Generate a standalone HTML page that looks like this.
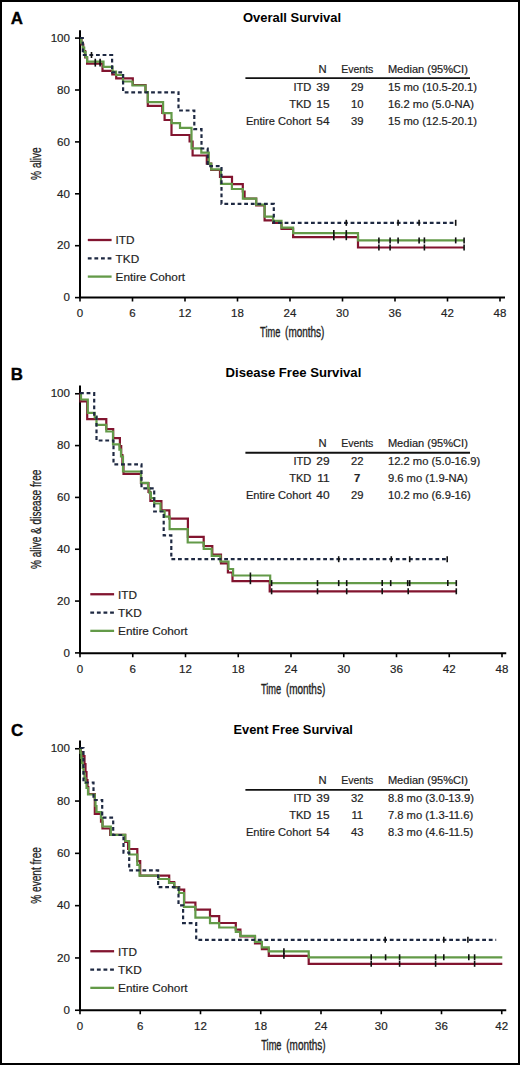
<!DOCTYPE html><html><head><meta charset="utf-8"><style>html,body{margin:0;padding:0;background:#fff;overflow:hidden;}svg{display:block;}</style></head><body>
<svg width="520" height="1065" viewBox="0 0 520 1065" font-family='"Liberation Sans", sans-serif'>
<rect x="0" y="0" width="520" height="1065" fill="#fff"/>
<rect x="1" y="1" width="518" height="1063" fill="none" stroke="#000" stroke-width="2"/>
<g><text x="10.8" y="23.8" font-size="16.9" font-weight="bold" fill="#000" stroke="#000" stroke-width="0.35">A</text><text x="243" y="21.7" font-size="13.4" font-weight="bold" fill="#000" textLength="98" lengthAdjust="spacingAndGlyphs">Overall Survival</text><path d="M80 30.3V297.5H505" fill="none" stroke="#000" stroke-width="2"/><path d="M75 297.6H80" stroke="#000" stroke-width="1.6"/><text x="70" y="301.3" font-size="11.6" fill="#222" stroke="#222" stroke-width="0.18" text-anchor="end">0</text><path d="M75 245.7H80" stroke="#000" stroke-width="1.6"/><text x="70" y="249.4" font-size="11.6" fill="#222" stroke="#222" stroke-width="0.18" text-anchor="end">20</text><path d="M75 193.8H80" stroke="#000" stroke-width="1.6"/><text x="70" y="197.5" font-size="11.6" fill="#222" stroke="#222" stroke-width="0.18" text-anchor="end">40</text><path d="M75 141.9H80" stroke="#000" stroke-width="1.6"/><text x="70" y="145.6" font-size="11.6" fill="#222" stroke="#222" stroke-width="0.18" text-anchor="end">60</text><path d="M75 90H80" stroke="#000" stroke-width="1.6"/><text x="70" y="93.7" font-size="11.6" fill="#222" stroke="#222" stroke-width="0.18" text-anchor="end">80</text><path d="M75 38.1H80" stroke="#000" stroke-width="1.6"/><text x="70" y="41.8" font-size="11.6" fill="#222" stroke="#222" stroke-width="0.18" text-anchor="end">100</text><path d="M80 297.5V301.5" stroke="#000" stroke-width="1.6"/><text x="80" y="317.1" font-size="11.5" fill="#222" stroke="#222" stroke-width="0.18" text-anchor="middle">0</text><path d="M132.5 297.5V301.5" stroke="#000" stroke-width="1.6"/><text x="132.5" y="317.1" font-size="11.5" fill="#222" stroke="#222" stroke-width="0.18" text-anchor="middle">6</text><path d="M185 297.5V301.5" stroke="#000" stroke-width="1.6"/><text x="185" y="317.1" font-size="11.5" fill="#222" stroke="#222" stroke-width="0.18" text-anchor="middle">12</text><path d="M237.5 297.5V301.5" stroke="#000" stroke-width="1.6"/><text x="237.5" y="317.1" font-size="11.5" fill="#222" stroke="#222" stroke-width="0.18" text-anchor="middle">18</text><path d="M290 297.5V301.5" stroke="#000" stroke-width="1.6"/><text x="290" y="317.1" font-size="11.5" fill="#222" stroke="#222" stroke-width="0.18" text-anchor="middle">24</text><path d="M342.5 297.5V301.5" stroke="#000" stroke-width="1.6"/><text x="342.5" y="317.1" font-size="11.5" fill="#222" stroke="#222" stroke-width="0.18" text-anchor="middle">30</text><path d="M395 297.5V301.5" stroke="#000" stroke-width="1.6"/><text x="395" y="317.1" font-size="11.5" fill="#222" stroke="#222" stroke-width="0.18" text-anchor="middle">36</text><path d="M447.5 297.5V301.5" stroke="#000" stroke-width="1.6"/><text x="447.5" y="317.1" font-size="11.5" fill="#222" stroke="#222" stroke-width="0.18" text-anchor="middle">42</text><path d="M500 297.5V301.5" stroke="#000" stroke-width="1.6"/><text x="500" y="317.1" font-size="11.5" fill="#222" stroke="#222" stroke-width="0.18" text-anchor="middle">48</text><text x="260.1" y="336.9" font-size="14" fill="#222" textLength="20.2" lengthAdjust="spacingAndGlyphs" stroke="#222" stroke-width="0.35">Time</text><text x="285.1" y="336.9" font-size="14" fill="#222" textLength="39.3" lengthAdjust="spacingAndGlyphs" stroke="#222" stroke-width="0.35">(months)</text><text transform="translate(41.2 163.6) rotate(-90)" x="0" y="0" font-size="14.5" fill="#222" text-anchor="middle" textLength="32.7" lengthAdjust="spacingAndGlyphs" stroke="#222" stroke-width="0.3">% alive</text><text x="326.6" y="73" font-size="10.2" fill="#222" stroke="#222" stroke-width="0.18" text-anchor="end" textLength="8.10" lengthAdjust="spacingAndGlyphs">N</text><text x="357.3" y="73" font-size="10.2" fill="#222" stroke="#222" stroke-width="0.18" text-anchor="middle" textLength="32.12" lengthAdjust="spacingAndGlyphs">Events</text><text x="387.9" y="73" font-size="10.2" fill="#222" stroke="#222" stroke-width="0.18" textLength="79.96" lengthAdjust="spacingAndGlyphs">Median (95%CI)</text><path d="M245.4 78.15H470" stroke="#111" stroke-width="1.9"/><text x="311.4" y="90.5" font-size="10.2" fill="#222" stroke="#222" stroke-width="0.18" text-anchor="end" textLength="17.91" lengthAdjust="spacingAndGlyphs">ITD</text><text x="329.6" y="90.5" font-size="10.2" fill="#222" stroke="#222" stroke-width="0.18" text-anchor="end" textLength="13.27" lengthAdjust="spacingAndGlyphs">39</text><text x="357.2" y="90.5" font-size="10.2" fill="#222" stroke="#222" stroke-width="0.18" text-anchor="middle" textLength="12.48" lengthAdjust="spacingAndGlyphs">29</text><text x="387.9" y="90.5" font-size="10.2" fill="#222" stroke="#222" stroke-width="0.18" textLength="89.19" lengthAdjust="spacingAndGlyphs">15 mo (10.5-20.1)</text><text x="311.4" y="107.8" font-size="10.2" fill="#222" stroke="#222" stroke-width="0.18" text-anchor="end" textLength="22.24" lengthAdjust="spacingAndGlyphs">TKD</text><text x="329.6" y="107.8" font-size="10.2" fill="#222" stroke="#222" stroke-width="0.18" text-anchor="end" textLength="13.27" lengthAdjust="spacingAndGlyphs">15</text><text x="357.2" y="107.8" font-size="10.2" fill="#222" stroke="#222" stroke-width="0.18" text-anchor="middle" textLength="12.48" lengthAdjust="spacingAndGlyphs">10</text><text x="387.9" y="107.8" font-size="10.2" fill="#222" stroke="#222" stroke-width="0.18" textLength="86.05" lengthAdjust="spacingAndGlyphs">16.2 mo (5.0-NA)</text><text x="311.4" y="124.8" font-size="10.2" fill="#222" stroke="#222" stroke-width="0.18" text-anchor="end" textLength="65.50" lengthAdjust="spacingAndGlyphs">Entire Cohort</text><text x="329.6" y="124.8" font-size="10.2" fill="#222" stroke="#222" stroke-width="0.18" text-anchor="end" textLength="13.27" lengthAdjust="spacingAndGlyphs">54</text><text x="357.2" y="124.8" font-size="10.2" fill="#222" stroke="#222" stroke-width="0.18" text-anchor="middle" textLength="12.48" lengthAdjust="spacingAndGlyphs">39</text><text x="387.9" y="124.8" font-size="10.2" fill="#222" stroke="#222" stroke-width="0.18" textLength="89.19" lengthAdjust="spacingAndGlyphs">15 mo (12.5-20.1)</text><path d="M87.8 240H111.6" stroke="#82142f" stroke-width="2.3"/><text x="115.6" y="244.3" font-size="11.8" fill="#222" stroke="#222" stroke-width="0.18">ITD</text><path d="M87.8 258.4H111.6" stroke="#1e2942" stroke-width="2.3" stroke-dasharray="3.8 2.8"/><text x="115.6" y="262.7" font-size="11.8" fill="#222" stroke="#222" stroke-width="0.18">TKD</text><path d="M87.8 276.6H111.6" stroke="#639a48" stroke-width="2.3"/><text x="115.6" y="280.9" font-size="11.8" fill="#222" stroke="#222" stroke-width="0.18">Entire Cohort</text><path d="M80 38H81.5V44.5H83.3V51H85.2V57.5H87.1V63.6H102.5V70.9H112.3V74.5H116.2V78.3H132.8V85H145.5V92H147.8V105.8H162.3V113H164.6V120H171.5V135H189.6V141.5H192.6V155.5H206.8V163.7H211.2V170H220V176.9H232V184.2H242.8V191.5H244.6V198.5H256.2V205.4H264.6V220.3H273.1V223H281.5V228.9H293.1V237.2H358V247.5H464.1" fill="none" stroke="#82142f" stroke-width="2.2"/><path d="M95.3 60.6V66.6" stroke="#111" stroke-width="1.6"/><path d="M100.1 60.6V66.6" stroke="#111" stroke-width="1.6"/><path d="M333.8 234.2V240.2" stroke="#111" stroke-width="1.6"/><path d="M346.3 234.2V240.2" stroke="#111" stroke-width="1.6"/><path d="M378.9 244.5V250.5" stroke="#111" stroke-width="1.6"/><path d="M390.1 244.5V250.5" stroke="#111" stroke-width="1.6"/><path d="M424.4 244.5V250.5" stroke="#111" stroke-width="1.6"/><path d="M464.1 244.5V250.5" stroke="#111" stroke-width="1.6"/><path d="M80 38H81.2V42.7H82.7V47.5H84.2V52.2H85.6V57H87.1V61.7H103.5V66.8H112.5V71.5H116V75H123V81.5H132.5V85.5H145.5V92H147.8V102.2H163.1V113.1H171.5V123.1H180V127.9H191.5V148.3H201.3V152.7H208.8V163.7H211.2V169.4H221V183.8H231.9V189H242.9V198.7H256.2V204.6H264.6V216.6H273.1V220.8H281.5V227.7H293.1V233.1H358V240.4H464.1" fill="none" stroke="#639a48" stroke-width="2.2"/><path d="M95.3 58.7V64.7" stroke="#111" stroke-width="1.6"/><path d="M100.1 58.7V64.7" stroke="#111" stroke-width="1.6"/><path d="M333.8 230.1V236.1" stroke="#111" stroke-width="1.6"/><path d="M346.3 230.1V236.1" stroke="#111" stroke-width="1.6"/><path d="M378.9 237.4V243.4" stroke="#111" stroke-width="1.6"/><path d="M390.1 237.4V243.4" stroke="#111" stroke-width="1.6"/><path d="M398.1 237.4V243.4" stroke="#111" stroke-width="1.6"/><path d="M419.1 237.4V243.4" stroke="#111" stroke-width="1.6"/><path d="M424.4 237.4V243.4" stroke="#111" stroke-width="1.6"/><path d="M455.7 237.4V243.4" stroke="#111" stroke-width="1.6"/><path d="M464.1 237.4V243.4" stroke="#111" stroke-width="1.6"/><path d="M80 38H82.8V55H112.1V72.3H123.1V92.3H178.5V110.5H194.3V129.2H201.5V148.5H207.7V166.2H221.5V203.8H273.8V222.8H455.7" fill="none" stroke="#1e2942" stroke-width="2.2" stroke-dasharray="3.8 2.8"/><path d="M91.5 52V58" stroke="#111" stroke-width="1.6"/><path d="M346.3 219.8V225.8" stroke="#111" stroke-width="1.6"/><path d="M398.1 219.8V225.8" stroke="#111" stroke-width="1.6"/><path d="M419.1 219.8V225.8" stroke="#111" stroke-width="1.6"/><path d="M455.7 219.8V225.8" stroke="#111" stroke-width="1.6"/></g>
<g><text x="10.8" y="379.8" font-size="16.9" font-weight="bold" fill="#000" stroke="#000" stroke-width="0.35">B</text><text x="225.6" y="376.7" font-size="13.4" font-weight="bold" fill="#000" textLength="135.7" lengthAdjust="spacingAndGlyphs">Disease Free Survival</text><path d="M80 385.5V653.25H506.25" fill="none" stroke="#000" stroke-width="2"/><path d="M75 652.9H80" stroke="#000" stroke-width="1.6"/><text x="70" y="656.6" font-size="11.6" fill="#222" stroke="#222" stroke-width="0.18" text-anchor="end">0</text><path d="M75 601.07H80" stroke="#000" stroke-width="1.6"/><text x="70" y="604.77" font-size="11.6" fill="#222" stroke="#222" stroke-width="0.18" text-anchor="end">20</text><path d="M75 549.24H80" stroke="#000" stroke-width="1.6"/><text x="70" y="552.94" font-size="11.6" fill="#222" stroke="#222" stroke-width="0.18" text-anchor="end">40</text><path d="M75 497.41H80" stroke="#000" stroke-width="1.6"/><text x="70" y="501.11" font-size="11.6" fill="#222" stroke="#222" stroke-width="0.18" text-anchor="end">60</text><path d="M75 445.58H80" stroke="#000" stroke-width="1.6"/><text x="70" y="449.28" font-size="11.6" fill="#222" stroke="#222" stroke-width="0.18" text-anchor="end">80</text><path d="M75 393.75H80" stroke="#000" stroke-width="1.6"/><text x="70" y="397.45" font-size="11.6" fill="#222" stroke="#222" stroke-width="0.18" text-anchor="end">100</text><path d="M80 653.25V657.25" stroke="#000" stroke-width="1.6"/><text x="80" y="672.85" font-size="11.5" fill="#222" stroke="#222" stroke-width="0.18" text-anchor="middle">0</text><path d="M132.75 653.25V657.25" stroke="#000" stroke-width="1.6"/><text x="132.75" y="672.85" font-size="11.5" fill="#222" stroke="#222" stroke-width="0.18" text-anchor="middle">6</text><path d="M185.5 653.25V657.25" stroke="#000" stroke-width="1.6"/><text x="185.5" y="672.85" font-size="11.5" fill="#222" stroke="#222" stroke-width="0.18" text-anchor="middle">12</text><path d="M238.25 653.25V657.25" stroke="#000" stroke-width="1.6"/><text x="238.25" y="672.85" font-size="11.5" fill="#222" stroke="#222" stroke-width="0.18" text-anchor="middle">18</text><path d="M291 653.25V657.25" stroke="#000" stroke-width="1.6"/><text x="291" y="672.85" font-size="11.5" fill="#222" stroke="#222" stroke-width="0.18" text-anchor="middle">24</text><path d="M343.75 653.25V657.25" stroke="#000" stroke-width="1.6"/><text x="343.75" y="672.85" font-size="11.5" fill="#222" stroke="#222" stroke-width="0.18" text-anchor="middle">30</text><path d="M396.5 653.25V657.25" stroke="#000" stroke-width="1.6"/><text x="396.5" y="672.85" font-size="11.5" fill="#222" stroke="#222" stroke-width="0.18" text-anchor="middle">36</text><path d="M449.25 653.25V657.25" stroke="#000" stroke-width="1.6"/><text x="449.25" y="672.85" font-size="11.5" fill="#222" stroke="#222" stroke-width="0.18" text-anchor="middle">42</text><path d="M502 653.25V657.25" stroke="#000" stroke-width="1.6"/><text x="502" y="672.85" font-size="11.5" fill="#222" stroke="#222" stroke-width="0.18" text-anchor="middle">48</text><text x="260.9" y="693.8" font-size="14" fill="#222" textLength="20.2" lengthAdjust="spacingAndGlyphs" stroke="#222" stroke-width="0.35">Time</text><text x="285.9" y="693.8" font-size="14" fill="#222" textLength="39.3" lengthAdjust="spacingAndGlyphs" stroke="#222" stroke-width="0.35">(months)</text><text transform="translate(41.2 519.4) rotate(-90)" x="0" y="0" font-size="14.5" fill="#222" text-anchor="middle" textLength="99.4" lengthAdjust="spacingAndGlyphs" stroke="#222" stroke-width="0.3">% alive &amp; disease free</text><text x="326.6" y="447" font-size="10.2" fill="#222" stroke="#222" stroke-width="0.18" text-anchor="end" textLength="8.10" lengthAdjust="spacingAndGlyphs">N</text><text x="357.3" y="447" font-size="10.2" fill="#222" stroke="#222" stroke-width="0.18" text-anchor="middle" textLength="32.12" lengthAdjust="spacingAndGlyphs">Events</text><text x="387.9" y="447" font-size="10.2" fill="#222" stroke="#222" stroke-width="0.18" textLength="79.96" lengthAdjust="spacingAndGlyphs">Median (95%CI)</text><path d="M245.4 452.7H470" stroke="#111" stroke-width="1.9"/><text x="311.4" y="464.5" font-size="10.2" fill="#222" stroke="#222" stroke-width="0.18" text-anchor="end" textLength="17.91" lengthAdjust="spacingAndGlyphs">ITD</text><text x="329.6" y="464.5" font-size="10.2" fill="#222" stroke="#222" stroke-width="0.18" text-anchor="end" textLength="13.27" lengthAdjust="spacingAndGlyphs">29</text><text x="357.2" y="464.5" font-size="10.2" fill="#222" stroke="#222" stroke-width="0.18" text-anchor="middle" textLength="12.48" lengthAdjust="spacingAndGlyphs">22</text><text x="387.9" y="464.5" font-size="10.2" fill="#222" stroke="#222" stroke-width="0.18" textLength="92.30" lengthAdjust="spacingAndGlyphs">12.2 mo (5.0-16.9)</text><text x="311.4" y="481.8" font-size="10.2" fill="#222" stroke="#222" stroke-width="0.18" text-anchor="end" textLength="22.24" lengthAdjust="spacingAndGlyphs">TKD</text><text x="329.6" y="481.8" font-size="10.2" fill="#222" stroke="#222" stroke-width="0.18" text-anchor="end" textLength="12.39" lengthAdjust="spacingAndGlyphs">11</text><text x="357.2" y="481.8" font-size="10.2" fill="#222" stroke="#222" stroke-width="0.18" text-anchor="middle" font-weight="bold" textLength="6.24" lengthAdjust="spacingAndGlyphs">7</text><text x="387.9" y="481.8" font-size="10.2" fill="#222" stroke="#222" stroke-width="0.18" textLength="79.81" lengthAdjust="spacingAndGlyphs">9.6 mo (1.9-NA)</text><text x="311.4" y="498.8" font-size="10.2" fill="#222" stroke="#222" stroke-width="0.18" text-anchor="end" textLength="65.50" lengthAdjust="spacingAndGlyphs">Entire Cohort</text><text x="329.6" y="498.8" font-size="10.2" fill="#222" stroke="#222" stroke-width="0.18" text-anchor="end" textLength="13.27" lengthAdjust="spacingAndGlyphs">40</text><text x="357.2" y="498.8" font-size="10.2" fill="#222" stroke="#222" stroke-width="0.18" text-anchor="middle" textLength="12.48" lengthAdjust="spacingAndGlyphs">29</text><text x="387.9" y="498.8" font-size="10.2" fill="#222" stroke="#222" stroke-width="0.18" textLength="82.95" lengthAdjust="spacingAndGlyphs">10.2 mo (6.9-16)</text><path d="M90.3 594.25H114.1" stroke="#82142f" stroke-width="2.3"/><text x="118.1" y="598.55" font-size="11.8" fill="#222" stroke="#222" stroke-width="0.18">ITD</text><path d="M90.3 612.65H114.1" stroke="#1e2942" stroke-width="2.3" stroke-dasharray="3.8 2.8"/><text x="118.1" y="616.95" font-size="11.8" fill="#222" stroke="#222" stroke-width="0.18">TKD</text><path d="M90.3 630.85H114.1" stroke="#639a48" stroke-width="2.3"/><text x="118.1" y="635.15" font-size="11.8" fill="#222" stroke="#222" stroke-width="0.18">Entire Cohort</text><path d="M80 393.2H80.5V401.3H87.2V419.2H106.3V429H113.2V438.2H119.9V446H121.2V455H122.4V464.5H123.5V473.8H141V483.2H148.5V492H150.4V501H161.4V510.3H169.4V518.7H187.9V536.8H203.7V546H212.3V554.6H221V563.3H227.9V572.5H232.5V581.2H269.7V591.3H456.3" fill="none" stroke="#82142f" stroke-width="2.2"/><path d="M250.4 578.2V584.2" stroke="#111" stroke-width="1.6"/><path d="M271.6 588.3V594.3" stroke="#111" stroke-width="1.6"/><path d="M317.5 588.3V594.3" stroke="#111" stroke-width="1.6"/><path d="M346.7 588.3V594.3" stroke="#111" stroke-width="1.6"/><path d="M382.2 588.3V594.3" stroke="#111" stroke-width="1.6"/><path d="M408.2 588.3V594.3" stroke="#111" stroke-width="1.6"/><path d="M456.3 588.3V594.3" stroke="#111" stroke-width="1.6"/><path d="M80 393.2H81V399.5H87.8V412.8H94.7V417.4H96.5V424.9H106.3V431.5H113V444.4H119.4V449.6H121V456.5H123V471.5H141V482.8H148V488.1H149.5V492.9H150.9V498.2H154.2V503.5H160.5V511H164.6V516.7H169.6V529.2H187.7V542.5H203.7V548.8H211.7V555.8H220.4V561.5H228.5V569H233.1V575.5H270.2V583.1H456.3" fill="none" stroke="#639a48" stroke-width="2.2"/><path d="M250.4 572.5V578.5" stroke="#111" stroke-width="1.6"/><path d="M271.6 580.1V586.1" stroke="#111" stroke-width="1.6"/><path d="M317.5 580.1V586.1" stroke="#111" stroke-width="1.6"/><path d="M338.7 580.1V586.1" stroke="#111" stroke-width="1.6"/><path d="M346.7 580.1V586.1" stroke="#111" stroke-width="1.6"/><path d="M382.2 580.1V586.1" stroke="#111" stroke-width="1.6"/><path d="M390.7 580.1V586.1" stroke="#111" stroke-width="1.6"/><path d="M407.7 580.1V586.1" stroke="#111" stroke-width="1.6"/><path d="M409.7 580.1V586.1" stroke="#111" stroke-width="1.6"/><path d="M447.8 580.1V586.1" stroke="#111" stroke-width="1.6"/><path d="M456.3 580.1V586.1" stroke="#111" stroke-width="1.6"/><path d="M80 393.2H94.2V416.7H96.5V440.5H113.5V464.4H141.5V488.3H154.2V511.5H163.7V535.3H171.3V559.2H447.2" fill="none" stroke="#1e2942" stroke-width="2.2" stroke-dasharray="3.8 2.8"/><path d="M338.7 556.2V562.2" stroke="#111" stroke-width="1.6"/><path d="M391.3 556.2V562.2" stroke="#111" stroke-width="1.6"/><path d="M409.7 556.2V562.2" stroke="#111" stroke-width="1.6"/><path d="M447.2 556.2V562.2" stroke="#111" stroke-width="1.6"/></g>
<g><text x="10.9" y="736.2" font-size="16.9" font-weight="bold" fill="#000" stroke="#000" stroke-width="0.35">C</text><text x="233.4" y="733.5" font-size="13.4" font-weight="bold" fill="#000" textLength="119.5" lengthAdjust="spacingAndGlyphs">Event Free Survival</text><path d="M80 740.5V1010.25H506.25" fill="none" stroke="#000" stroke-width="2"/><path d="M75 1010.25H80" stroke="#000" stroke-width="1.6"/><text x="70" y="1013.95" font-size="11.6" fill="#222" stroke="#222" stroke-width="0.18" text-anchor="end">0</text><path d="M75 957.95H80" stroke="#000" stroke-width="1.6"/><text x="70" y="961.65" font-size="11.6" fill="#222" stroke="#222" stroke-width="0.18" text-anchor="end">20</text><path d="M75 905.65H80" stroke="#000" stroke-width="1.6"/><text x="70" y="909.35" font-size="11.6" fill="#222" stroke="#222" stroke-width="0.18" text-anchor="end">40</text><path d="M75 853.35H80" stroke="#000" stroke-width="1.6"/><text x="70" y="857.05" font-size="11.6" fill="#222" stroke="#222" stroke-width="0.18" text-anchor="end">60</text><path d="M75 801.05H80" stroke="#000" stroke-width="1.6"/><text x="70" y="804.75" font-size="11.6" fill="#222" stroke="#222" stroke-width="0.18" text-anchor="end">80</text><path d="M75 748.75H80" stroke="#000" stroke-width="1.6"/><text x="70" y="752.45" font-size="11.6" fill="#222" stroke="#222" stroke-width="0.18" text-anchor="end">100</text><path d="M80 1010.25V1014.25" stroke="#000" stroke-width="1.6"/><text x="80" y="1029.85" font-size="11.5" fill="#222" stroke="#222" stroke-width="0.18" text-anchor="middle">0</text><path d="M140.25 1010.25V1014.25" stroke="#000" stroke-width="1.6"/><text x="140.25" y="1029.85" font-size="11.5" fill="#222" stroke="#222" stroke-width="0.18" text-anchor="middle">6</text><path d="M200.5 1010.25V1014.25" stroke="#000" stroke-width="1.6"/><text x="200.5" y="1029.85" font-size="11.5" fill="#222" stroke="#222" stroke-width="0.18" text-anchor="middle">12</text><path d="M260.75 1010.25V1014.25" stroke="#000" stroke-width="1.6"/><text x="260.75" y="1029.85" font-size="11.5" fill="#222" stroke="#222" stroke-width="0.18" text-anchor="middle">18</text><path d="M321 1010.25V1014.25" stroke="#000" stroke-width="1.6"/><text x="321" y="1029.85" font-size="11.5" fill="#222" stroke="#222" stroke-width="0.18" text-anchor="middle">24</text><path d="M381.25 1010.25V1014.25" stroke="#000" stroke-width="1.6"/><text x="381.25" y="1029.85" font-size="11.5" fill="#222" stroke="#222" stroke-width="0.18" text-anchor="middle">30</text><path d="M441.5 1010.25V1014.25" stroke="#000" stroke-width="1.6"/><text x="441.5" y="1029.85" font-size="11.5" fill="#222" stroke="#222" stroke-width="0.18" text-anchor="middle">36</text><path d="M501.75 1010.25V1014.25" stroke="#000" stroke-width="1.6"/><text x="501.75" y="1029.85" font-size="11.5" fill="#222" stroke="#222" stroke-width="0.18" text-anchor="middle">42</text><text x="261.3" y="1050.3" font-size="14" fill="#222" textLength="20.2" lengthAdjust="spacingAndGlyphs" stroke="#222" stroke-width="0.35">Time</text><text x="286.3" y="1050.3" font-size="14" fill="#222" textLength="39.3" lengthAdjust="spacingAndGlyphs" stroke="#222" stroke-width="0.35">(months)</text><text transform="translate(41.2 875.4) rotate(-90)" x="0" y="0" font-size="14.5" fill="#222" text-anchor="middle" textLength="56.6" lengthAdjust="spacingAndGlyphs" stroke="#222" stroke-width="0.3">% event free</text><text x="326.6" y="784.25" font-size="10.2" fill="#222" stroke="#222" stroke-width="0.18" text-anchor="end" textLength="8.10" lengthAdjust="spacingAndGlyphs">N</text><text x="357.3" y="784.25" font-size="10.2" fill="#222" stroke="#222" stroke-width="0.18" text-anchor="middle" textLength="32.12" lengthAdjust="spacingAndGlyphs">Events</text><text x="387.9" y="784.25" font-size="10.2" fill="#222" stroke="#222" stroke-width="0.18" textLength="79.96" lengthAdjust="spacingAndGlyphs">Median (95%CI)</text><path d="M245.4 789.9H470" stroke="#111" stroke-width="1.9"/><text x="311.4" y="801.75" font-size="10.2" fill="#222" stroke="#222" stroke-width="0.18" text-anchor="end" textLength="17.91" lengthAdjust="spacingAndGlyphs">ITD</text><text x="329.6" y="801.75" font-size="10.2" fill="#222" stroke="#222" stroke-width="0.18" text-anchor="end" textLength="13.27" lengthAdjust="spacingAndGlyphs">39</text><text x="357.2" y="801.75" font-size="10.2" fill="#222" stroke="#222" stroke-width="0.18" text-anchor="middle" textLength="12.48" lengthAdjust="spacingAndGlyphs">32</text><text x="387.9" y="801.75" font-size="10.2" fill="#222" stroke="#222" stroke-width="0.18" textLength="86.06" lengthAdjust="spacingAndGlyphs">8.8 mo (3.0-13.9)</text><text x="311.4" y="819.05" font-size="10.2" fill="#222" stroke="#222" stroke-width="0.18" text-anchor="end" textLength="22.24" lengthAdjust="spacingAndGlyphs">TKD</text><text x="329.6" y="819.05" font-size="10.2" fill="#222" stroke="#222" stroke-width="0.18" text-anchor="end" textLength="13.27" lengthAdjust="spacingAndGlyphs">15</text><text x="357.2" y="819.05" font-size="10.2" fill="#222" stroke="#222" stroke-width="0.18" text-anchor="middle" textLength="11.65" lengthAdjust="spacingAndGlyphs">11</text><text x="387.9" y="819.05" font-size="10.2" fill="#222" stroke="#222" stroke-width="0.18" textLength="85.23" lengthAdjust="spacingAndGlyphs">7.8 mo (1.3-11.6)</text><text x="311.4" y="836.05" font-size="10.2" fill="#222" stroke="#222" stroke-width="0.18" text-anchor="end" textLength="65.50" lengthAdjust="spacingAndGlyphs">Entire Cohort</text><text x="329.6" y="836.05" font-size="10.2" fill="#222" stroke="#222" stroke-width="0.18" text-anchor="end" textLength="13.27" lengthAdjust="spacingAndGlyphs">54</text><text x="357.2" y="836.05" font-size="10.2" fill="#222" stroke="#222" stroke-width="0.18" text-anchor="middle" textLength="12.48" lengthAdjust="spacingAndGlyphs">43</text><text x="387.9" y="836.05" font-size="10.2" fill="#222" stroke="#222" stroke-width="0.18" textLength="85.23" lengthAdjust="spacingAndGlyphs">8.3 mo (4.6-11.5)</text><path d="M90.3 951.25H114.1" stroke="#82142f" stroke-width="2.3"/><text x="118.1" y="955.55" font-size="11.8" fill="#222" stroke="#222" stroke-width="0.18">ITD</text><path d="M90.3 969.65H114.1" stroke="#1e2942" stroke-width="2.3" stroke-dasharray="3.8 2.8"/><text x="118.1" y="973.95" font-size="11.8" fill="#222" stroke="#222" stroke-width="0.18">TKD</text><path d="M90.3 987.85H114.1" stroke="#639a48" stroke-width="2.3"/><text x="118.1" y="992.15" font-size="11.8" fill="#222" stroke="#222" stroke-width="0.18">Entire Cohort</text><path d="M80 748H80.8V752H82V756H84.5V764H85.5V772H86.5V780H87.5V787H88.3V794H94.8V814H101V821.7H102.5V828.5H110.2V834.8H125.2V842H128.1V849H137.3V861.2H140.2V875.7H169.2V882.2H174.2V887.2H179.2V889.7H184.2V902.5H195.4V909.7H210V916.2H219.2V923H235.8V929.6H240.4V936.5H255V943.5H261.9V949.2H268.8V955.8H308.7V963.8H502.3" fill="none" stroke="#82142f" stroke-width="2.2"/><path d="M283.9 952.8V958.8" stroke="#111" stroke-width="1.6"/><path d="M371.2 960.8V966.8" stroke="#111" stroke-width="1.6"/><path d="M399.6 960.8V966.8" stroke="#111" stroke-width="1.6"/><path d="M435.6 960.8V966.8" stroke="#111" stroke-width="1.6"/><path d="M474.6 960.8V966.8" stroke="#111" stroke-width="1.6"/><path d="M80 748H80.6V753H81.3V758H82V763H82.7V768H83.5V773H84.5V778H85.5V783H86.5V788H88V794.5H94.8V800H95.5V806H96.5V812H101V818H102.5V826.5H110.8V834.8H125.2V841H129.2V854.5H137.3V865H139.5V875.6H158.7V879H169V883H174.4V887.5H179V893H184V906.8H195.4V917.7H210V923.1H219.2V927.5H235.8V931.9H240.4V935.8H255V941.9H261.9V947.3H268.8V951.3H308.7V957.3H502.3" fill="none" stroke="#639a48" stroke-width="2.2"/><path d="M283.9 948.3V954.3" stroke="#111" stroke-width="1.6"/><path d="M371.2 954.3V960.3" stroke="#111" stroke-width="1.6"/><path d="M385.6 954.3V960.3" stroke="#111" stroke-width="1.6"/><path d="M399.6 954.3V960.3" stroke="#111" stroke-width="1.6"/><path d="M435.6 954.3V960.3" stroke="#111" stroke-width="1.6"/><path d="M443.8 954.3V960.3" stroke="#111" stroke-width="1.6"/><path d="M468.8 954.3V960.3" stroke="#111" stroke-width="1.6"/><path d="M474.6 954.3V960.3" stroke="#111" stroke-width="1.6"/><path d="M80 748H83.5V782.5H93.5V800H102.2V817.7H113.2V835H123.5V852.6H129.2V870.4H158.1V887.2H178.5V905.3H183.1V923.1H196.2V939.8H496.2" fill="none" stroke="#1e2942" stroke-width="2.2" stroke-dasharray="3.8 2.8"/><path d="M385.2 936.8V942.8" stroke="#111" stroke-width="1.6"/><path d="M443.8 936.8V942.8" stroke="#111" stroke-width="1.6"/><path d="M467.9 936.8V942.8" stroke="#111" stroke-width="1.6"/></g>
</svg></body></html>
